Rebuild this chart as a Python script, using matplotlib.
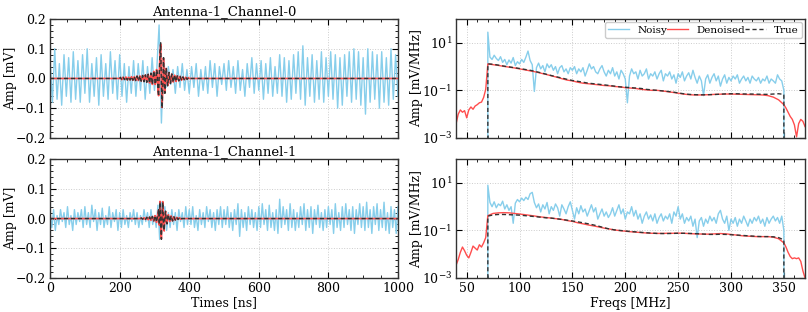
import numpy as np
import matplotlib
matplotlib.use("Agg")
import matplotlib.pyplot as plt
from matplotlib.ticker import MultipleLocator, NullLocator

plt.rcParams['font.family'] = ['DejaVu Serif']
plt.rcParams['mathtext.fontset'] = 'dejavuserif'

# ---------------- time-domain data ----------------
titles = ["Antenna-1_Channel-0", "Antenna-1_Channel-1"]

ch0_noisy_t = np.linspace(0, 1000, 151)
ch0_noisy = [
    0.06, -0.08, 0.10, -0.07, 0.05, -0.09, 0.08, -0.06, 0.07, -0.08,
    0.09, -0.07, 0.06, -0.08, 0.08, -0.05, 0.10, -0.08, 0.05, -0.06,
    0.07, -0.09, 0.08, -0.06, 0.05, -0.07, 0.09, -0.05, 0.06, -0.07,
    0.08, -0.06, 0.05, -0.08, 0.04, -0.05, 0.06, -0.06, 0.05, -0.04,
    0.06, -0.07, 0.04, -0.05, 0.07, -0.04, 0.03, 0.18, -0.15, 0.07,
    -0.03, 0.04, -0.02, 0.03, -0.05, 0.04, -0.03, 0.05, -0.04, 0.03,
    -0.05, 0.04, -0.03, 0.05, -0.06, 0.03, -0.04, 0.04, -0.05, 0.06,
    -0.03, 0.05, -0.06, 0.04, -0.02, 0.05, -0.04, 0.06, -0.03, 0.04,
    -0.05, 0.06, -0.04, 0.03, -0.06, 0.05, -0.03, 0.07, -0.05, 0.05,
    -0.04, 0.06, -0.07, 0.05, -0.05, 0.07, -0.06, 0.04, -0.05, 0.08,
    -0.06, 0.07, -0.08, 0.06, -0.07, 0.08, -0.05, 0.09, -0.07, 0.11,
    -0.09, 0.07, -0.06, 0.08, -0.08, 0.06, -0.07, 0.09, -0.08, 0.07,
    -0.06, 0.09, -0.07, 0.08, -0.10, 0.07, -0.09, 0.08, -0.06, 0.09,
    -0.08, 0.10, -0.07, 0.09, -0.09, 0.07, -0.12, 0.10, -0.08, 0.09,
    -0.07, 0.08, -0.10, 0.09, -0.08, 0.07, -0.09, 0.10, -0.07, 0.08, -0.06,
]

ch1_noisy_t = np.linspace(0, 1000, 201)
ch1_noisy = [
    0.02, -0.03, 0.03, -0.04, 0.01, -0.02, 0.03, -0.01, 0.02, -0.03, 0.04, -0.02, 0.01, -0.04, 0.03, -0.02, 0.02, -0.01, 0.03, -0.03,
    0.04, -0.02, 0.02, -0.03, 0.045, -0.01, 0.03, -0.04, 0.02, -0.02, 0.035, -0.03, 0.01, -0.02, 0.04, -0.03, 0.02, -0.01, 0.03, -0.04,
    0.02, -0.03, 0.03, -0.02, 0.01, -0.03, 0.02, -0.01, 0.03, -0.02, 0.02, -0.03, 0.01, -0.02, 0.03, -0.01, 0.02, -0.03, 0.03, -0.02,
    0.01, -0.03, 0.045, -0.07, 0.055, -0.03, 0.04, -0.04, 0.02, -0.03, 0.03, -0.02, 0.02, -0.04, 0.03, -0.01, 0.02, -0.03, 0.04, -0.02,
    0.03, -0.02, 0.04, -0.03, 0.01, -0.04, 0.03, -0.02, 0.02, -0.03, 0.04, -0.01, 0.03, -0.03, 0.02, -0.04, 0.03, -0.02, 0.04, -0.03,
    0.03, -0.02, 0.04, -0.03, 0.02, -0.04, 0.03, -0.02, 0.05, -0.06, 0.03, -0.03, 0.02, -0.04, 0.04, -0.02, 0.03, -0.03, 0.02, -0.04,
    0.04, -0.03, 0.05, -0.02, 0.03, -0.04, 0.045, -0.03, 0.02, -0.04, 0.03, -0.05, 0.065, -0.03, 0.04, -0.02, 0.03, -0.04, 0.05, -0.03,
    0.03, -0.04, 0.02, -0.03, 0.04, -0.02, 0.05, -0.04, 0.03, -0.03, 0.04, -0.05, 0.03, -0.02, 0.045, -0.03, 0.02, -0.04, 0.03, -0.03,
    0.04, -0.02, 0.03, -0.05, 0.05, -0.03, 0.02, -0.04, 0.04, -0.03, 0.05, -0.02, 0.03, -0.04, 0.04, -0.05, 0.03, -0.02, 0.05, -0.03,
    0.04, -0.04, 0.055, -0.03, 0.03, -0.05, 0.04, -0.02, 0.05, -0.04, 0.03, -0.03, 0.055, -0.04, 0.02, -0.05, 0.04, -0.03, 0.03, -0.05, 0.04,
]

ch0_pulse_t = np.arange(200, 402, 2)
ch0_true = [
    0, 0.004, 0, -0.004, 0, 0.004, 0, -0.004, 0, 0.005,
    0, -0.005, 0, 0.005, 0, -0.005, 0, 0.006, 0, -0.006,
    0, 0.007, 0, -0.007, 0, 0.008, 0, -0.008, 0, 0.009,
    0, -0.009, 0, 0.010, 0, -0.011, 0, 0.012, 0, -0.013,
    0, 0.014, 0, -0.016, 0.002, 0.018, 0, -0.02, 0.005, 0.025,
    0.01, -0.02, -0.01, 0.03, 0.02, -0.04, -0.06, 0.02, 0.09, 0.12,
    -0.02, -0.10, -0.03, 0.07, 0.01, -0.05, 0.0, 0.035, 0.0, -0.025,
    0, 0.02, 0, -0.017, 0, 0.015, 0, -0.013, 0, 0.012,
    0, -0.01, 0, 0.009, 0, -0.008, 0, 0.007, 0, -0.006,
    0, 0.005, 0, -0.004, 0, 0.004, 0, -0.003, 0, 0.003, 0,
]
ch0_den = [
    0, 0.003, 0, -0.004, 0, 0.004, 0, -0.003, 0, 0.005,
    0, -0.005, 0, 0.004, 0, -0.005, 0, 0.006, 0, -0.006,
    0, 0.006, 0, -0.007, 0, 0.008, 0, -0.007, 0, 0.009,
    0, -0.009, 0, 0.010, 0, -0.010, 0, 0.012, 0, -0.012,
    0, 0.014, 0, -0.015, 0.002, 0.017, 0, -0.02, 0.005, 0.024,
    0.01, -0.02, -0.012, 0.03, 0.02, -0.042, -0.058, 0.02, 0.088, 0.115,
    -0.02, -0.098, -0.03, 0.068, 0.01, -0.048, 0.0, 0.034, 0.0, -0.024,
    0, 0.02, 0, -0.016, 0, 0.015, 0, -0.012, 0, 0.011,
    0, -0.01, 0, 0.009, 0, -0.008, 0, 0.007, 0, -0.006,
    0, 0.005, 0, -0.004, 0, 0.004, 0, -0.003, 0, 0.003, 0,
]

ch1_pulse_t = np.arange(260, 382, 2)
ch1_true = [
    0, 0.002, 0, -0.002, 0, 0.003, 0, -0.003, 0, 0.004,
    0, -0.004, 0, 0.005, 0, -0.006, 0, 0.007, 0, -0.008,
    0, 0.01, 0, -0.012, 0.002, 0.015, 0.03, -0.02, 0.055, -0.03,
    -0.07, 0.02, 0.055, -0.02, -0.04, 0.01, 0.025, -0.01, -0.018, 0.005,
    0.014, 0, -0.01, 0, 0.009, 0, -0.008, 0, 0.006, 0,
    -0.005, 0, 0.004, 0, -0.003, 0, 0.003, 0, -0.002, 0, 0,
]
ch1_den = [
    0, 0.002, 0, -0.002, 0, 0.003, 0, -0.003, 0, 0.004,
    0, -0.004, 0, 0.005, 0, -0.006, 0, 0.007, 0, -0.008,
    0, 0.01, 0, -0.013, 0.002, 0.016, 0.028, -0.022, 0.058, -0.03,
    -0.068, 0.02, 0.057, -0.02, -0.042, 0.01, 0.024, -0.01, -0.017, 0.005,
    0.013, 0, -0.01, 0, 0.009, 0, -0.008, 0, 0.006, 0,
    -0.005, 0, 0.004, 0, -0.003, 0, 0.003, 0, -0.002, 0, 0,
]

# ---------------- frequency-domain data ----------------
noisy_f = np.arange(70, 352, 2)
ch0_noisy_spec = [
    28, 2.5, 2.0, 3.0, 2.2, 1.8, 2.6, 1.5, 2.0, 1.2,
    1.9, 1.4, 2.4, 1.1, 1.6, 1.3, 2.0, 1.5, 2.5, 4.5,
    1.8, 1.2, 0.09, 0.9, 1.4, 0.8, 1.1, 0.6, 1.3, 0.9,
    1.2, 0.7, 1.0, 0.5, 0.9, 1.1, 0.6, 0.8, 0.5, 0.9,
    0.7, 1.0, 0.5, 0.8, 0.6, 0.9, 0.4, 0.7, 1.3, 0.8,
    1.0, 0.6, 0.5, 0.8, 1.1, 0.6, 0.4, 0.7, 0.5, 0.9,
    0.4, 0.6, 0.3, 0.7, 0.5, 0.3, 0.03, 0.4, 0.8, 0.5,
    0.6, 0.3, 0.7, 0.4, 0.5, 0.8, 0.3, 0.5, 0.4, 0.6,
    0.3, 0.5, 0.7, 0.25, 0.5, 0.4, 0.6, 0.3, 0.45, 0.2,
    0.5, 0.35, 0.6, 0.25, 0.4, 0.55, 0.3, 0.7, 0.35, 0.2,
    0.4, 0.25, 0.06, 0.3, 0.45, 0.2, 0.35, 0.5, 0.25, 0.4,
    0.15, 0.3, 0.45, 0.2, 0.35, 0.25, 0.4, 0.3, 0.45, 0.2,
    0.3, 0.4, 0.25, 0.35, 0.2, 0.4, 0.3, 0.25, 0.35, 0.2,
    0.3, 0.25, 0.4, 0.2, 0.3, 0.25, 0.2, 0.45, 0.3, 0.25, 0.1,
]
ch1_noisy_spec = [
    8, 1.5, 1.0, 1.6, 0.9, 1.3, 1.1, 1.7, 0.8, 1.2,
    0.7, 1.0, 0.2, 1.4, 2.0, 1.6, 2.3, 1.8, 2.5, 2.0,
    3.5, 4.0, 1.5, 0.9, 1.3, 0.6, 1.2, 0.8, 1.5, 0.5,
    1.0, 0.7, 1.3, 0.9, 0.4, 1.2, 0.8, 0.5, 1.0, 1.6,
    0.7, 0.3, 0.9, 0.5, 1.1, 0.6, 0.8, 0.4, 0.7, 1.2,
    0.6, 0.9, 0.3, 0.5, 0.8, 0.4, 0.6, 0.35, 0.5, 0.9,
    0.4, 0.7, 1.2, 0.5, 0.8, 0.3, 0.6, 0.5, 1.0, 0.4,
    0.7, 0.3, 0.5, 0.2, 0.4, 0.6, 0.3, 0.45, 0.25, 0.5,
    0.2, 0.35, 0.5, 0.25, 0.4, 0.3, 0.5, 0.2, 0.6, 0.4,
    1.0, 0.3, 0.5, 0.2, 0.35, 0.25, 0.4, 0.15, 0.3, 0.05,
    0.25, 0.35, 0.15, 0.3, 0.2, 0.4, 0.25, 0.35, 0.2, 0.5,
    0.7, 0.3, 0.2, 0.4, 0.1, 0.3, 0.2, 0.35, 0.15, 0.3,
    0.2, 0.4, 0.25, 0.15, 0.3, 0.2, 0.35, 0.25, 0.4, 0.2,
    0.3, 0.15, 0.35, 0.2, 0.3, 0.4, 0.25, 0.35, 0.2, 0.4, 0.1,
]

true_f = np.arange(70, 355, 5)
ch0_true_spec = [
    1.30, 1.25, 1.15, 1.05, 0.97, 0.90, 0.83, 0.76, 0.70, 0.62,
    0.55, 0.48, 0.42, 0.37, 0.33, 0.29, 0.26, 0.24, 0.22, 0.20,
    0.19, 0.18, 0.17, 0.16, 0.15, 0.14, 0.135, 0.13, 0.125, 0.12,
    0.11, 0.105, 0.10, 0.095, 0.09, 0.085, 0.078, 0.072, 0.068, 0.066,
    0.065, 0.065, 0.066, 0.067, 0.069, 0.071, 0.072, 0.072, 0.071, 0.070,
    0.070, 0.069, 0.068, 0.068, 0.070, 0.072, 0.068,
]
ch1_true_spec = [
    0.40, 0.45, 0.47, 0.47, 0.46, 0.45, 0.44, 0.42, 0.40, 0.38,
    0.36, 0.34, 0.33, 0.31, 0.29, 0.27, 0.25, 0.23, 0.21, 0.19,
    0.17, 0.15, 0.13, 0.115, 0.105, 0.10, 0.095, 0.09, 0.087, 0.083,
    0.080, 0.077, 0.075, 0.074, 0.074, 0.075, 0.076, 0.076, 0.075, 0.074,
    0.072, 0.070, 0.068, 0.068, 0.069, 0.068, 0.066, 0.064, 0.062, 0.060,
    0.058, 0.056, 0.055, 0.055, 0.054, 0.050, 0.040,
]

den_f = np.concatenate([np.arange(40, 70, 2), np.arange(70, 350, 5), np.arange(350, 372, 2)])
ch0_den_spec = [
    0.004, 0.010, 0.015, 0.012, 0.014, 0.007, 0.015, 0.020, 0.016, 0.022, 0.025, 0.030, 0.032, 0.050, 0.11,
    1.30, 1.20, 1.12, 1.02, 0.95, 0.88, 0.80, 0.73, 0.66, 0.60,
    0.53, 0.47, 0.41, 0.36, 0.31, 0.27, 0.25, 0.22, 0.20, 0.19,
    0.18, 0.17, 0.16, 0.155, 0.145, 0.14, 0.13, 0.125, 0.12, 0.11,
    0.105, 0.10, 0.10, 0.095, 0.088, 0.082, 0.076, 0.070, 0.066, 0.064,
    0.064, 0.065, 0.066, 0.068, 0.069, 0.070, 0.070, 0.069, 0.068, 0.067,
    0.066, 0.065, 0.064, 0.060, 0.052, 0.040,
    0.025, 0.018, 0.012, 0.008, 0.006, 0.0035, 0.0011, 0.004, 0.006, 0.005, 0.003,
]
ch1_den_spec = [
    0.0035, 0.006, 0.012, 0.020, 0.014, 0.009, 0.007, 0.012, 0.022, 0.018, 0.015, 0.025, 0.020, 0.030, 0.050,
    0.42, 0.52, 0.55, 0.56, 0.55, 0.52, 0.49, 0.46, 0.43, 0.40,
    0.37, 0.35, 0.33, 0.31, 0.29, 0.26, 0.24, 0.21, 0.19, 0.17,
    0.155, 0.14, 0.125, 0.115, 0.105, 0.098, 0.093, 0.088, 0.085, 0.081,
    0.078, 0.076, 0.075, 0.075, 0.076, 0.076, 0.077, 0.076, 0.074, 0.072,
    0.071, 0.070, 0.070, 0.072, 0.074, 0.072, 0.068, 0.064, 0.060, 0.058,
    0.056, 0.055, 0.055, 0.055, 0.052, 0.045,
    0.030, 0.020, 0.012, 0.008, 0.0065, 0.007, 0.0065, 0.007, 0.005, 0.002, 0.001,
]

BAND_FLOOR = 1e-6

C_NOISY = "#87CEEB"
C_DEN = "#FF4D4D"
C_TRUE = "#333333"

fig = plt.figure(figsize=(8.08, 3.12), dpi=100)
L = [0.062, 0.5645]
W = [0.4305, 0.4318]
B = [0.558, 0.109]
H = 0.381

time_data = [
    (ch0_noisy_t, ch0_noisy, ch0_pulse_t, ch0_den, ch0_true),
    (ch1_noisy_t, ch1_noisy, ch1_pulse_t, ch1_den, ch1_true),
]
spec_data = [
    (ch0_noisy_spec, ch0_den_spec, ch0_true_spec),
    (ch1_noisy_spec, ch1_den_spec, ch1_true_spec),
]

def style(ax):
    ax.tick_params(which='both', direction='in', top=True, right=True, labelsize=9, pad=3)
    ax.tick_params(which='major', length=4, width=0.8)
    ax.tick_params(which='minor', length=2, width=0.6)
    ax.grid(True, which='major', color='#cccccc', linestyle=':', linewidth=0.7)
    for s in ax.spines.values():
        s.set_linewidth(1.0)
        s.set_color('#333333')

for r in range(2):
    nt, nv, pt, dv, tv = time_data[r]
    ax = fig.add_axes([L[0], B[r], W[0], H])
    ax.plot(nt, nv, color=C_NOISY, lw=1.0)
    full_t = np.concatenate([[0], pt, [1000]])
    ax.plot(full_t, np.concatenate([[0], dv, [0]]), color=C_DEN, lw=1.2)
    ax.plot(full_t, np.concatenate([[0], tv, [0]]), color=C_TRUE, lw=1.0, ls='--', dashes=(3, 2))
    ax.set_xlim(0, 1000)
    ax.set_ylim(-0.2, 0.2)
    ax.xaxis.set_major_locator(MultipleLocator(200))
    ax.xaxis.set_minor_locator(MultipleLocator(50))
    ax.yaxis.set_major_locator(MultipleLocator(0.1))
    ax.yaxis.set_minor_locator(MultipleLocator(0.02))
    ax.set_ylabel("Amp [mV]", fontsize=9)
    ax.yaxis.set_label_coords(-0.094, 0.5)
    ax.set_title(titles[r], fontsize=9.5, pad=3)
    style(ax)
    if r == 0:
        ax.tick_params(labelbottom=False)
    else:
        ax.set_xlabel("Times [ns]", fontsize=9, labelpad=1)

    ns, ds, ts = spec_data[r]
    ax2 = fig.add_axes([L[1], B[r], W[1], H])
    nf = np.concatenate([[noisy_f[0]], noisy_f, [noisy_f[-1]]])
    nsv = np.concatenate([[BAND_FLOOR], ns, [BAND_FLOOR]])
    tf = np.concatenate([[true_f[0]], true_f, [true_f[-1]]])
    tsv = np.concatenate([[BAND_FLOOR], ts, [BAND_FLOOR]])
    ax2.plot(nf, nsv, color=C_NOISY, lw=1.0, label="Noisy")
    ax2.plot(den_f, ds, color=C_DEN, lw=1.0, label="Denoised")
    ax2.plot(tf, tsv, color=C_TRUE, lw=1.0, ls='--', dashes=(3, 2), label="True")
    ax2.set_yscale('log')
    ax2.set_xlim(40, 370)
    ax2.set_ylim(1e-3, 1e2)
    ax2.xaxis.set_major_locator(MultipleLocator(50))
    ax2.xaxis.set_minor_locator(MultipleLocator(10))
    ax2.set_yticks([1e-3, 1e-1, 1e1])
    ax2.yaxis.set_minor_locator(NullLocator())
    ax2.set_ylabel("Amp [mV/MHz]", fontsize=9)
    ax2.yaxis.set_label_coords(-0.094, 0.5)
    style(ax2)
    if r == 0:
        ax2.tick_params(labelbottom=False)
        ax2.legend(loc='upper right', ncol=3, fontsize=7.5, handlelength=2.0,
                   columnspacing=0.0, handletextpad=0.8, borderpad=0.3,
                   borderaxespad=0.3, framealpha=1.0, edgecolor='#cccccc')
    else:
        ax2.set_xlabel("Freqs [MHz]", fontsize=9, labelpad=1)

fig.savefig("out.png", dpi=100)
